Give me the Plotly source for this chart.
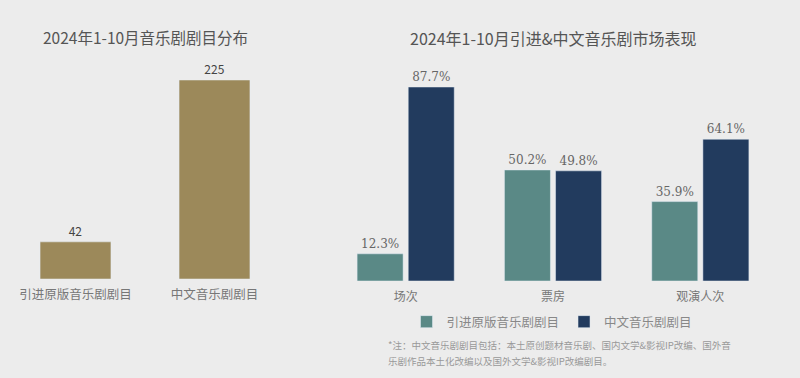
import plotly.graph_objects as go

# Left chart data
left_categories = ["引进原版音乐剧剧目", "中文音乐剧剧目"]
left_values = [42, 225]

# Right chart data
right_categories = ["场次", "票房", "观演人次"]
imported_share = [12.3, 50.2, 35.9]
chinese_share = [87.7, 49.8, 64.1]
series_names = ["引进原版音乐剧剧目", "中文音乐剧剧目"]

title_left = "2024年1-10月音乐剧剧目分布"
title_right = "2024年1-10月引进&中文音乐剧市场表现"
footnote_lines = ["*注：中文音乐剧剧目包括：本土原创题材音乐剧、国内文学&影视IP改编、国外音",
                  "乐剧作品本土化改编以及国外文学&影视IP改编剧目。"]

FONT = "Noto Sans CJK SC"
GOLD = "#9c895a"
TEAL = "#5a8986"
NAVY = "#223b5e"

fig = go.Figure()

fig.add_trace(go.Bar(
    x=left_categories, y=left_values, width=0.51,
    marker=dict(color=GOLD),
    text=[str(v) for v in left_values], textposition="outside",
    textfont=dict(size=12, color="#444", family=FONT),
    cliponaxis=False, showlegend=False,
    xaxis="x", yaxis="y",
))

fig.add_trace(go.Bar(
    x=right_categories, y=imported_share, name=series_names[0],
    marker=dict(color=TEAL),
    text=[f"{v:.1f}%" for v in imported_share], textposition="outside",
    textfont=dict(size=12, color="#666", family="DejaVu Serif"),
    cliponaxis=False, xaxis="x2", yaxis="y2",
))
fig.add_trace(go.Bar(
    x=right_categories, y=chinese_share, name=series_names[1],
    marker=dict(color=NAVY),
    text=[f"{v:.1f}%" for v in chinese_share], textposition="outside",
    textfont=dict(size=12, color="#666", family="DejaVu Serif"),
    cliponaxis=False, xaxis="x2", yaxis="y2",
))

annotations = [
    dict(text=title_left, x=145/800, y=1-37/378, xref="paper", yref="paper",
         showarrow=False, xanchor="center", yanchor="middle",
         font=dict(size=15.5, color="#555", family=FONT)),
    dict(text=title_right, x=553/800, y=1-38/378, xref="paper", yref="paper",
         showarrow=False, xanchor="center", yanchor="middle",
         font=dict(size=16, color="#555", family=FONT)),
]
for i, line in enumerate(footnote_lines):
    annotations.append(dict(text=line, x=386/800, y=1-(345+16*i)/378, xref="paper", yref="paper",
                            showarrow=False, xanchor="left", yanchor="middle", align="left",
                            font=dict(size=9.5, color="#999", family=FONT)))

fig.update_layout(
    width=800, height=378,
    margin=dict(l=0, r=0, t=0, b=0),
    paper_bgcolor="#ececec", plot_bgcolor="rgba(0,0,0,0)",
    barmode="group", bargap=0.306, bargroupgap=0.1,
    font=dict(family=FONT),
    xaxis=dict(domain=[6/800, 284/800], anchor="y", showgrid=False, zeroline=False,
               showline=False, ticks="", ticklabelstandoff=6,
               tickfont=dict(size=12.5, color="#777", family=FONT)),
    yaxis=dict(domain=[99/378, 298/378], anchor="x", range=[0, 225], visible=False),
    xaxis2=dict(domain=[332/800, 774/800], anchor="y2", showgrid=False, zeroline=False,
                showline=False, ticks="", ticklabelstandoff=7,
                tickfont=dict(size=12, color="#777", family=FONT)),
    yaxis2=dict(domain=[97/378, 291/378], anchor="x2", range=[0, 87.7], visible=False),
    legend=dict(orientation="h", x=552/800, xanchor="center", y=(378-322)/378, yanchor="middle",
                font=dict(size=12.5, color="#888", family=FONT), bgcolor="rgba(0,0,0,0)",
                itemwidth=30, tracegroupgap=0),
    annotations=annotations,
)

fig.write_html("out.html", config={"displayModeBar": False},
               post_script="document.body.style.margin='0';document.body.style.padding='0';")
